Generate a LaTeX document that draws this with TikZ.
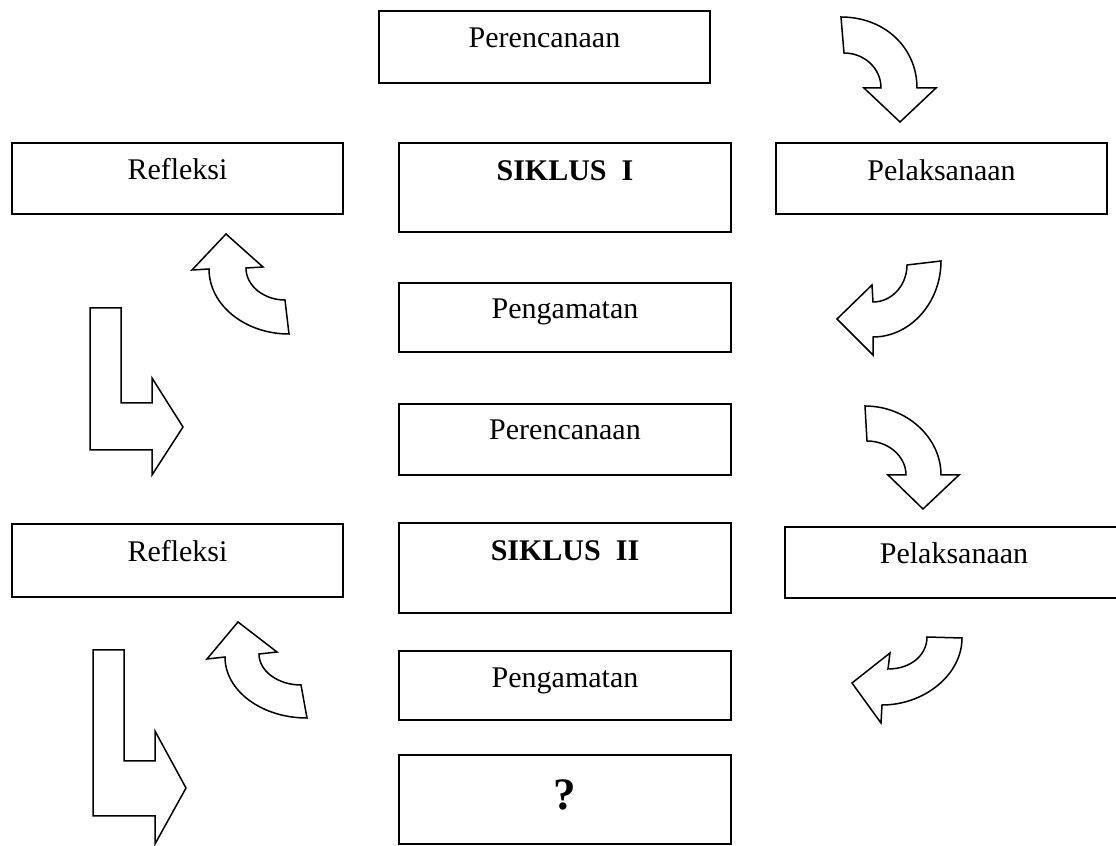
\documentclass[tikz,border=0pt]{standalone}
\usepackage{fontspec}
\setmainfont{Liberation Serif}
\usepackage{tikz}
\usetikzlibrary{shapes,shapes.misc}

\begin{document}
\begin{tikzpicture}[x=0.4pt,y=-0.4pt]
   \useasboundingbox (0,0) rectangle (1116,846);
   \fontsize{12pt}{14pt}\selectfont
   \tikzstyle{kotak}=[draw=black, line width=0.8pt, inner sep=0pt, anchor=north, minimum width=132.6pt]
   \tikzstyle{panah}=[draw=black, line width=0.6pt, fill=white, line join=miter]
   % kolom tengah
   \node[kotak, text height=14.8pt, text depth=13.9pt] (rencana1) at (544.5,10) {Perencanaan};
   \node[kotak, text height=15.2pt, text depth=20.4pt] (siklus1) at (565,142) {\textbf{SIKLUS~~I}};
   \node[kotak, text height=14.4pt, text depth=13.2pt] (amat1) at (565,282) {Pengamatan};
   \node[kotak, text height=14.4pt, text depth=14pt] (rencana2) at (565,403) {Perencanaan};
   \node[kotak, text height=15.2pt, text depth=20.8pt] (siklus2) at (565,522) {\textbf{SIKLUS~~II}};
   \node[kotak, text height=14.8pt, text depth=12.8pt] (amat2) at (565,650) {Pengamatan};
   \node[kotak, text height=21.6pt, text depth=14pt] (tanya) at (565,754) {\fontsize{18pt}{20pt}\selectfont\bfseries ?};
   % kiri dan kanan
   \node[kotak, text height=14.8pt, text depth=13.6pt] (refleksi1) at (177.5,142) {Refleksi};
   \node[kotak, text height=15.2pt, text depth=14pt] (refleksi2) at (177.5,523) {Refleksi};
   \node[kotak, text height=15pt, text depth=13.4pt] (laksana1) at (941.5,142) {Pelaksanaan};
   \node[kotak, text height=14.8pt, text depth=13.6pt, minimum width=135pt] (laksana2) at (954,526) {Pelaksanaan};
   % panah lengkung
   \path[panah] (841,17) -- (844,53) .. controls (864,53) and (881,68) .. (881,88) -- (864,88) -- (900,122)
      -- (936,88) -- (917,88) .. controls (917,48) and (885,17) .. (841,17) -- cycle;
   \path[panah] (907,265) -- (941,261) .. controls (941,303) and (910,337) .. (873,337) -- (873,355) -- (837,319)
      -- (872,285) -- (873,302) .. controls (892,302) and (907,285) .. (907,265) -- cycle;
   \path[panah] (865,406) -- (867,441) .. controls (888,441) and (906,456) .. (906,475) -- (888,475) -- (923,509)
      -- (959,475) -- (941,475) .. controls (941,437) and (906,406) .. (865,406) -- cycle;
   \path[panah] (927,637) -- (962,638) .. controls (962,675) and (924,705) .. (882,705) -- (881,723) -- (852,683)
      -- (890,653) -- (888,669) .. controls (911,669) and (927,655) .. (927,637) -- cycle;
   \path[panah] (226,234) -- (263,267) -- (246,268) .. controls (246,286) and (264,300) .. (285,300)
      -- (289,334) .. controls (245,334) and (209,305) .. (209,269) -- (192,270) -- cycle;
   \path[panah] (238,622) -- (277,652) -- (259,654) .. controls (259,671) and (278,685) .. (301,685)
      -- (307,718) .. controls (262,718) and (225,691) .. (225,657) -- (207,659) -- cycle;
   % panah siku
   \path[panah] (90,308) -- (121,308) -- (121,403) -- (152,403) -- (152,378) -- (183,427) -- (152,475)
      -- (152,450) -- (90,450) -- cycle;
   \path[panah] (93,650) -- (124,650) -- (124,761) -- (155,761) -- (155,731) -- (186,788) -- (155,844)
      -- (155,816) -- (93,816) -- cycle;
\end{tikzpicture}
\end{document}
